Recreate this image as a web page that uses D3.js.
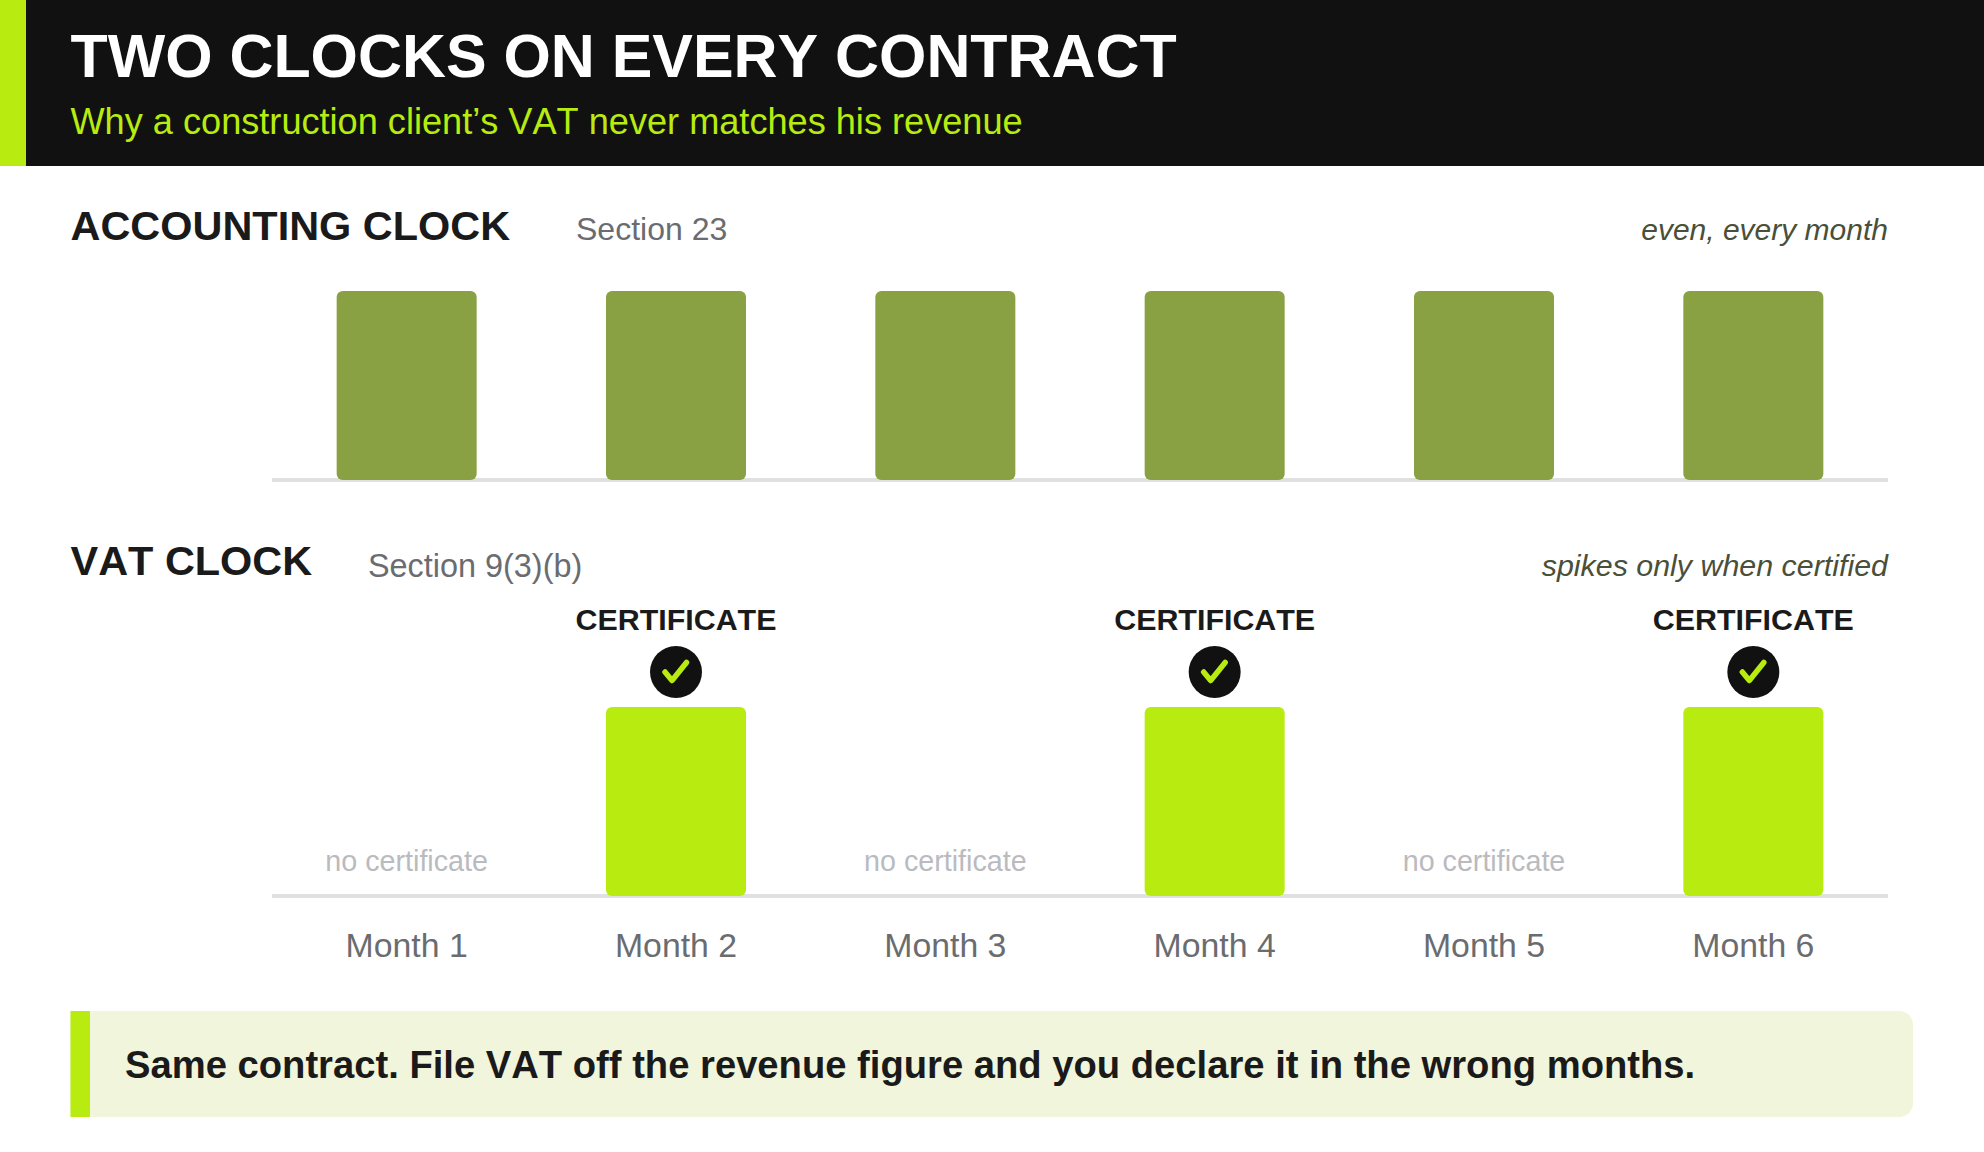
<!DOCTYPE html>
<html><head><meta charset="utf-8">
<script src="https://cdn.jsdelivr.net/npm/d3@7"></script>
<style>html,body{margin:0;padding:0;background:#fff;overflow:hidden}svg{display:block}text{font-family:"Liberation Sans",Arial,sans-serif;font-kerning:none;text-rendering:optimizeSpeed}</style>
</head><body><div id="chart"></div>
<script>
const months = ["Month 1","Month 2","Month 3","Month 4","Month 5","Month 6"];
const accountingValues = [1,1,1,1,1,1];
const vatValues = [0,1,0,1,0,1];
const titleText = "TWO CLOCKS ON EVERY CONTRACT";
const subtitleText = "Why a construction client\u2019s VAT never matches his revenue";
const calloutText = "Same contract. File VAT off the revenue figure and you declare it in the wrong months.";

const W=1984,H=1152,LIME="#b8ec10",OLIVE="#89a043",DARK="#111111",INK="#1a1a1a",GREY="#6a6c70";
const svg=d3.select("#chart").append("svg").attr("width",W).attr("height",H).attr("viewBox",[0,0,W,H]);
svg.append("rect").attr("width",W).attr("height",H).attr("fill","#fff");
svg.append("rect").attr("width",W).attr("height",166).attr("fill",DARK);
svg.append("rect").attr("width",26).attr("height",166).attr("fill",LIME);
const txt=(s,x,y,size,fill,o={})=>svg.append("text").attr("x",x).attr("y",y).attr("font-size",size).attr("fill",fill)
  .attr("font-weight",o.w||400).attr("font-style",o.i?"italic":"normal").attr("text-anchor",o.a||"start").text(s);
txt(titleText,70.5,76.5,60.9,"#fff",{w:700});
txt(subtitleText,70.5,134,36.15,LIME);

const x=d3.scaleBand().domain(months).range([272,1888]).paddingInner(0).paddingOuter(0);
const barW=140;
function row(values,base,fill,showLabels){
  const y=d3.scaleLinear().domain([0,1]).range([base,base-189]);
  const ax=d3.axisBottom(x).tickSize(0).tickPadding(42).offset(0);
  const g=svg.append("g").attr("transform",`translate(0,${base})`).call(ax);
  g.select(".domain").attr("stroke","#e0e0e0").attr("stroke-width",4);
  g.selectAll("text").attr("font-size",33.8).attr("fill",GREY).attr("font-family",'"Liberation Sans",Arial,sans-serif').attr("dy",0).attr("y",61);
  if(!showLabels) g.selectAll(".tick").remove();
  svg.append("g").selectAll("rect").data(months.map((m,i)=>({m,v:values[i]})).filter(d=>d.v>0)).join("rect")
    .attr("x",d=>x(d.m)+(x.bandwidth()-barW)/2).attr("width",barW)
    .attr("y",d=>y(d.v)).attr("height",d=>base-y(d.v)).attr("rx",6).attr("fill",fill);
  return y;
}
txt("ACCOUNTING CLOCK",70.5,240,41.45,INK,{w:700});
txt("Section 23",576,240,32,GREY);
txt("even, every month",1888,240,30,"#4a4f3a",{i:true,a:"end"});
row(accountingValues,480,OLIVE,false);

txt("VAT CLOCK",70.5,575,41.45,INK,{w:700});
txt("Section 9(3)(b)",368,576.5,32.4,GREY);
txt("spikes only when certified",1888,576,30.4,"#4a4f3a",{i:true,a:"end"});
const base2=896;
const yV=row(vatValues,base2,LIME,true);
months.forEach((m,i)=>{
  const cx=x(m)+x.bandwidth()/2;
  if(vatValues[i]>0){
    const top=yV(vatValues[i]);
    txt("CERTIFICATE",cx,630,30.4,INK,{w:700,a:"middle"});
    const g=svg.append("g").attr("transform",`translate(${cx},${top-35})`);
    g.append("circle").attr("r",26).attr("fill",DARK);
    g.append("path").attr("d",d3.line()([[-11,0],[-4,8.5],[10.5,-9.5]])).attr("fill","none").attr("stroke",LIME).attr("stroke-width",5.5).attr("stroke-linecap","round").attr("stroke-linejoin","round");
  } else {
    txt("no certificate",cx,870.5,28.7,"#b9bbbf",{a:"middle"});
  }
});

const cy=1011,ch=106;
svg.append("rect").attr("x",70.5).attr("y",cy).attr("width",1842.5).attr("height",ch).attr("rx",14).attr("fill","#f1f5dc");
svg.append("rect").attr("x",70.5).attr("y",cy).attr("width",40).attr("height",ch).attr("fill","#f1f5dc");
svg.append("rect").attr("x",70.5).attr("y",cy).attr("width",19.5).attr("height",ch).attr("fill",LIME);
txt(calloutText,125,1078,38.2,INK,{w:700});
</script></body></html>
